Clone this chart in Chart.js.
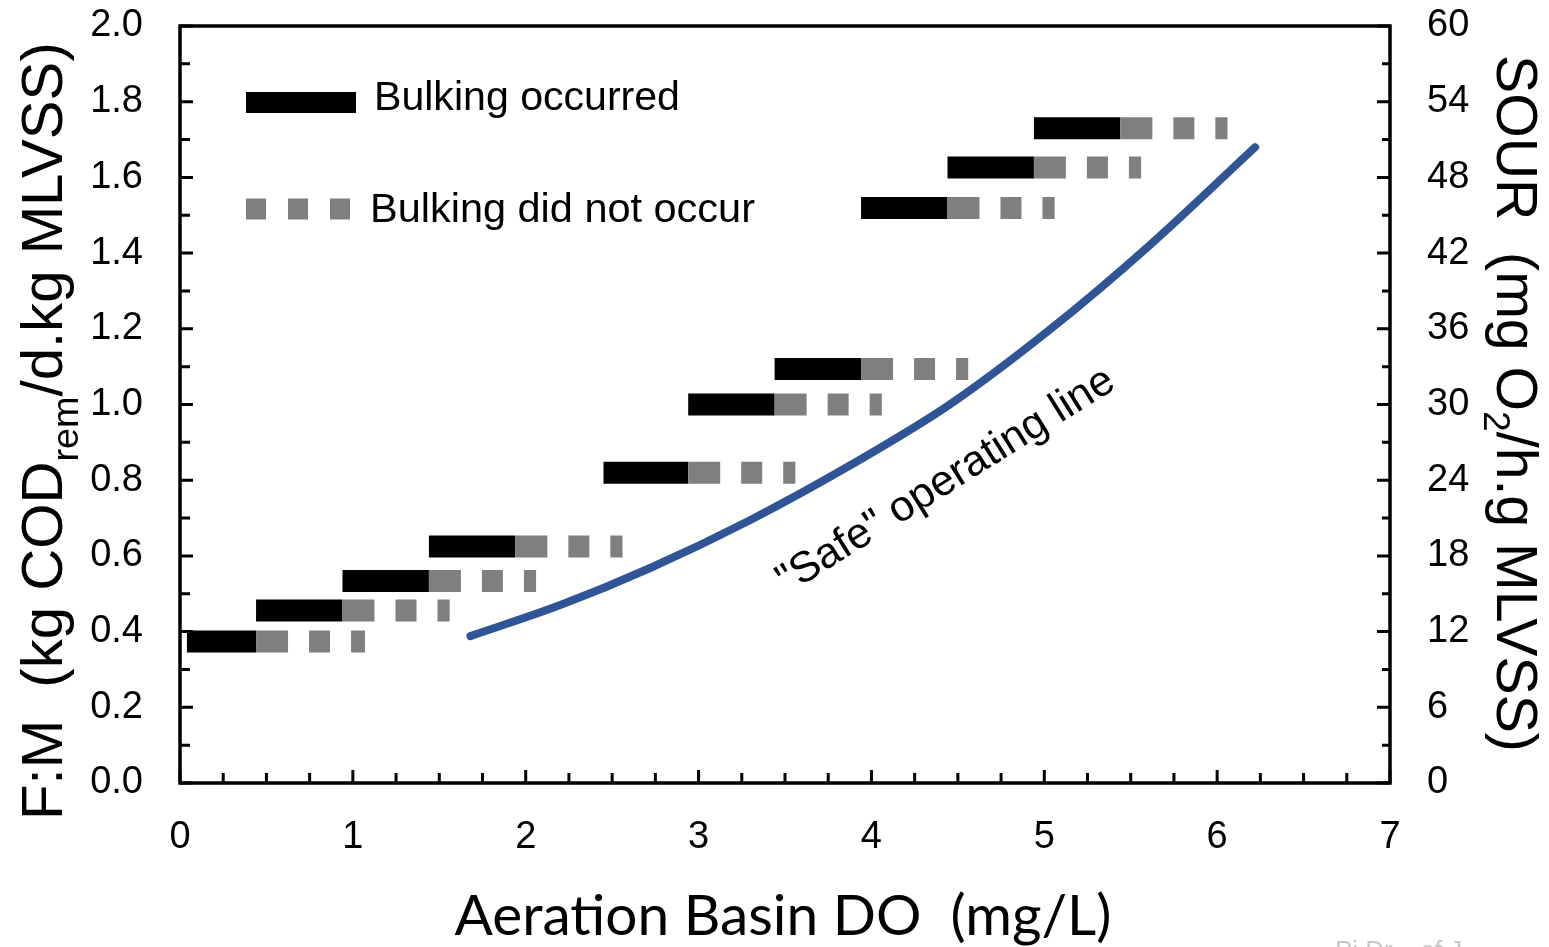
<!DOCTYPE html>
<html>
<head>
<meta charset="utf-8">
<script src="https://cdn.jsdelivr.net/npm/chart.js@4.4.1/dist/chart.umd.min.js"></script>
<style>
  body { margin: 0; background: #fff; }
</style>
</head>
<body>
<canvas id="myChart" width="1549" height="947"></canvas>
<script>
// F:M of each row of bars (left axis)
const rowFM = [0.374, 0.456, 0.534, 0.625, 0.82, 1.0, 1.094, 1.519, 1.626, 1.73];
// DO where the black part starts and ends, and where the grey part ends
const blackFrom = [0.04, 0.44, 0.94, 1.44, 2.45, 2.94, 3.44, 3.94, 4.44, 4.94];
const blackTo = [0.44, 0.94, 1.44, 1.94, 2.94, 3.44, 3.94, 4.44, 4.94, 5.44];
const greyTo = [1.07, 1.56, 2.06, 2.56, 3.56, 4.06, 4.56, 5.06, 5.56, 6.06];

// "safe" operating line
const safeDO = [1.68, 2.2, 2.72, 3.3, 3.88, 4.45, 5.03, 5.61, 6.22];
const safeFM = [0.388, 0.47, 0.568, 0.695, 0.84, 0.999, 1.197, 1.421, 1.68];

const legendLabels = ["Bulking occurred", "Bulking did not occur"];
const xTitle = "Aeration Basin DO  (mg/L)";
const yTitle = ["F:M  (kg COD", "rem", "/d.kg MLVSS)"];
const y2Title = ["SOUR  (mg O", "2", "/h.g MLVSS)"];
const lineLabel = '"Safe" operating line';

const GREY = "#7f7f7f";
const BLUE = "#2f5597";
const SANS = "'Liberation Sans', Arial, sans-serif";

var datasets = [];
rowFM.forEach((fm, i) => {
  datasets.push({
    data: [{ x: blackTo[i], y: fm }, { x: greyTo[i], y: fm }],
    borderColor: GREY,
    borderWidth: 22,
    borderDash: [32, 21, 21, 21],
    showLine: true,
    pointRadius: 0,
  });
  datasets.push({
    data: [{ x: blackFrom[i], y: fm }, { x: blackTo[i], y: fm }],
    borderColor: "#000",
    borderWidth: 22,
    showLine: true,
    pointRadius: 0,
  });
});
datasets.push({
  data: safeDO.map((d, i) => ({ x: d, y: safeFM[i] })),
  borderColor: BLUE,
  borderWidth: 8,
  borderCapStyle: "round",
  tension: 0.4,
  cubicInterpolationMode: "monotone",
  showLine: true,
  pointRadius: 0,
});

// font size that makes the text (with small sub parts) as wide as w
const fitSize = (ctx, parts, family, w) => {
  let total = 0;
  parts.forEach((p, i) => {
    ctx.font = (i == 1 && parts.length == 3 ? 65 : 100) + "px " + family;
    total += ctx.measureText(p).width;
  });
  return (100 * w) / total;
};

const drawRich = (ctx, parts, size, family, subDrop) => {
  let x = 0;
  parts.forEach((p, i) => {
    const sub = i == 1;
    ctx.font = (sub ? size * 0.65 : size) + "px " + family;
    ctx.fillText(p, x, sub ? size * subDrop : 0);
    x += ctx.measureText(p).width;
  });
};

const noPad = (scale) => {
  scale.paddingTop = 0;
  scale.paddingBottom = 0;
  scale.paddingLeft = 0;
  scale.paddingRight = 0;
};

const decorations = {
  id: "decorations",
  afterDraw(chart) {
    const ctx = chart.ctx;
    const a = chart.chartArea;
    const sx = chart.scales.x, sy = chart.scales.y, sy2 = chart.scales.y2;
    ctx.save();

    // inward tick marks
    ctx.strokeStyle = "#000";
    ctx.lineWidth = 3;
    ctx.beginPath();
    for (let i = 0; i <= 28; i++) {
      const px = sx.getPixelForValue(i * 0.25);
      ctx.moveTo(px, a.bottom);
      ctx.lineTo(px, a.bottom - (i % 4 == 0 ? 13 : 10));
    }
    for (let i = 0; i <= 20; i++) {
      const py = sy.getPixelForValue(i * 0.1);
      ctx.moveTo(a.left, py);
      ctx.lineTo(a.left + (i % 2 == 0 ? 13 : 10), py);
    }
    for (let i = 0; i <= 20; i++) {
      const py = sy2.getPixelForValue(i * 3);
      ctx.moveTo(a.right, py);
      ctx.lineTo(a.right - (i % 2 == 0 ? 13 : 8), py);
    }
    ctx.stroke();

    // frame
    ctx.lineWidth = 3.5;
    ctx.strokeRect(a.left, a.top, a.right - a.left, a.bottom - a.top);

    // legend
    ctx.fillStyle = "#000";
    ctx.fillRect(246, 92, 110, 21);
    ctx.strokeStyle = GREY;
    ctx.lineWidth = 21;
    ctx.setLineDash([20, 22]);
    ctx.beginPath();
    ctx.moveTo(246, 209);
    ctx.lineTo(352, 209);
    ctx.stroke();
    ctx.setLineDash([]);
    ctx.fillStyle = "#000";
    ctx.textBaseline = "alphabetic";
    ctx.textAlign = "left";
    ctx.font = fitSize(ctx, [legendLabels[0]], SANS, 306) + "px " + SANS;
    ctx.fillText(legendLabels[0], 374, 110);
    ctx.font = fitSize(ctx, [legendLabels[1]], SANS, 385) + "px " + SANS;
    ctx.fillText(legendLabels[1], 370, 222);

    // label along the curve
    ctx.save();
    ctx.translate(946, 481);
    ctx.rotate(Math.atan2(-207, 330));
    ctx.textAlign = "center";
    ctx.textBaseline = "middle";
    ctx.font = fitSize(ctx, [lineLabel], SANS, 390) + "px " + SANS;
    ctx.fillText(lineLabel, 0, 0);
    ctx.restore();

    // x title
    const xFont = "Lato, 'Open Sans', sans-serif";
    ctx.textAlign = "center";
    ctx.textBaseline = "alphabetic";
    ctx.font = fitSize(ctx, [xTitle], xFont, 657) + "px " + xFont;
    ctx.fillText(xTitle, 783, 935);

    // left title
    ctx.textAlign = "left";
    ctx.save();
    ctx.translate(62, 820);
    ctx.rotate(-Math.PI / 2);
    drawRich(ctx, yTitle, fitSize(ctx, yTitle, SANS, 778), SANS, 0.28);
    ctx.restore();

    // right title
    ctx.save();
    ctx.translate(1497, 55);
    ctx.rotate(Math.PI / 2);
    drawRich(ctx, y2Title, fitSize(ctx, y2Title, SANS, 697), SANS, 0.22);
    ctx.restore();

    // faint credit, cut at the bottom edge
    ctx.fillStyle = "#c8c8c8";
    ctx.font = "26px " + SANS;
    ctx.textBaseline = "top";
    ctx.fillText("Pi Dr... of J...", 1335, 939);

    ctx.restore();
  },
};

var ctx = document.getElementById("myChart").getContext("2d");
var myChart = new Chart(ctx, {
  type: "scatter",
  data: { datasets: datasets },
  options: {
    responsive: false,
    animation: false,
    layout: { padding: { top: 26, left: 0, right: 0, bottom: 0 } },
    plugins: {
      legend: { display: false },
      tooltip: { enabled: false },
    },
    scales: {
      x: {
        type: "linear",
        min: 0,
        max: 7,
        grid: { display: false, drawTicks: false },
        border: { display: false },
        ticks: { stepSize: 1, padding: 32, color: "#000", font: { family: SANS, size: 38 } },
        afterFit: (scale) => { scale.height = 164; noPad(scale); },
      },
      y: {
        position: "left",
        min: 0,
        max: 2,
        grid: { display: false, drawTicks: false },
        border: { display: false },
        ticks: {
          stepSize: 0.2,
          padding: 37,
          color: "#000",
          font: { family: SANS, size: 38 },
          callback: (v) => v.toFixed(1),
        },
        afterFit: (scale) => { scale.width = 180; noPad(scale); },
      },
      y2: {
        position: "right",
        min: 0,
        max: 60,
        grid: { display: false, drawTicks: false },
        border: { display: false },
        ticks: { stepSize: 6, padding: 37, color: "#000", font: { family: SANS, size: 38 } },
        afterFit: (scale) => { scale.width = 159; noPad(scale); },
      },
    },
  },
  plugins: [decorations],
});
</script>
</body>
</html>
